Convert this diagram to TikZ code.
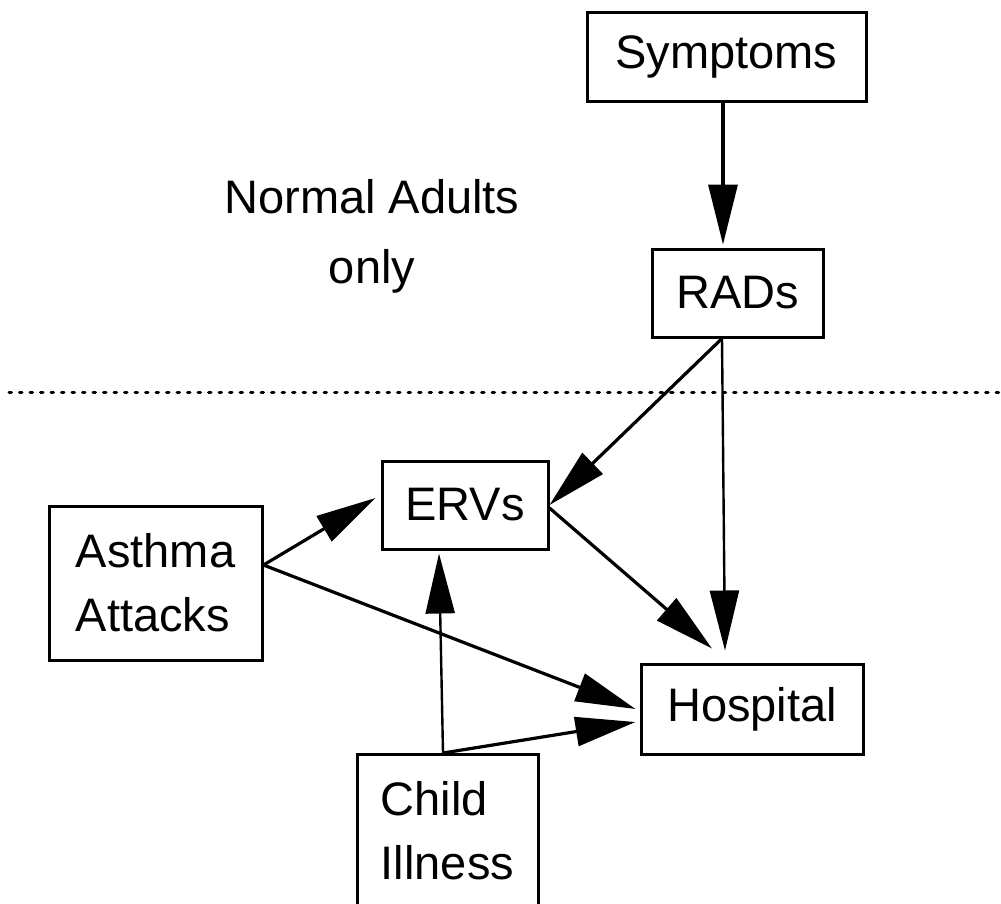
\documentclass[tikz,border=0pt]{standalone}
\usepackage{fontspec}
\setmainfont{Liberation Sans}
\usetikzlibrary{arrows.meta}
\begin{document}
\begin{tikzpicture}[x=1pt,y=-1pt,
  box/.style={draw=black, line width=3pt, inner sep=0pt, font=\fontsize{47}{64}\selectfont},
  conn/.style={draw=black, line width=3.2pt, -{Triangle[length=60pt,width=29pt]}},
  thin conn/.style={conn, line width=2.4pt},
  label text/.style={font=\fontsize{47}{70}\selectfont, align=center}]
\clip (0,0) rectangle (1001,903);
\fill[white] (0,0) rectangle (1001,903);
% nodes
\node[box, minimum width=279pt, minimum height=89pt] (symp) at (726.5,56.5) {Symptoms};
\node[box, minimum width=171pt, minimum height=88pt] (rads) at (737.5,293) {RADs};
\node[box, minimum width=166pt, minimum height=88pt] (ervs) at (465,505) {ERVs};
\node[box, minimum width=213pt, minimum height=154pt, align=left] (asthma) at (155.5,583) {Asthma\\Attacks};
\node[box, minimum width=222pt, minimum height=90pt] (hosp) at (752,709) {Hospital};
\node[box, minimum width=181pt, minimum height=152pt, align=left, anchor=north] (child) at (447.5,753) {Child\\Illness};
\node[label text] (note) at (372,236) {Normal Adults\\only};
% dotted separator
\coordinate (dl) at (9,392);
\coordinate (dr) at (1004,392);
\draw[line width=3pt, line cap=round, dash pattern=on 2.5pt off 8pt] (dl) -- (dr);
% connectors
\draw[conn] ([xshift=-3.5pt]symp.south) -- ([xshift=-14.5pt,yshift=3pt]rads.north);
\draw[conn] ([xshift=-15.5pt]rads.south) -- (ervs.east);
\draw[thin conn] ([xshift=-15.5pt]rads.south) -- ([xshift=-27pt,yshift=12pt]hosp.north);
\draw[conn] ([yshift=-3pt]ervs.east) -- ([xshift=-40pt,yshift=14pt]hosp.north);
\draw[conn] ([yshift=18pt]asthma.east) -- ([yshift=7pt,xshift=-5pt]ervs.west);
\draw[conn] ([yshift=18pt]asthma.east) -- ([xshift=-4pt]hosp.west);
\draw[thin conn] ([xshift=-4.5pt]child.north) -- ([xshift=-26pt,yshift=-3pt]ervs.south);
\draw[conn] ([xshift=-4.5pt]child.north) -- ([xshift=-4pt,yshift=-13pt]hosp.west);
\end{tikzpicture}
\end{document}
